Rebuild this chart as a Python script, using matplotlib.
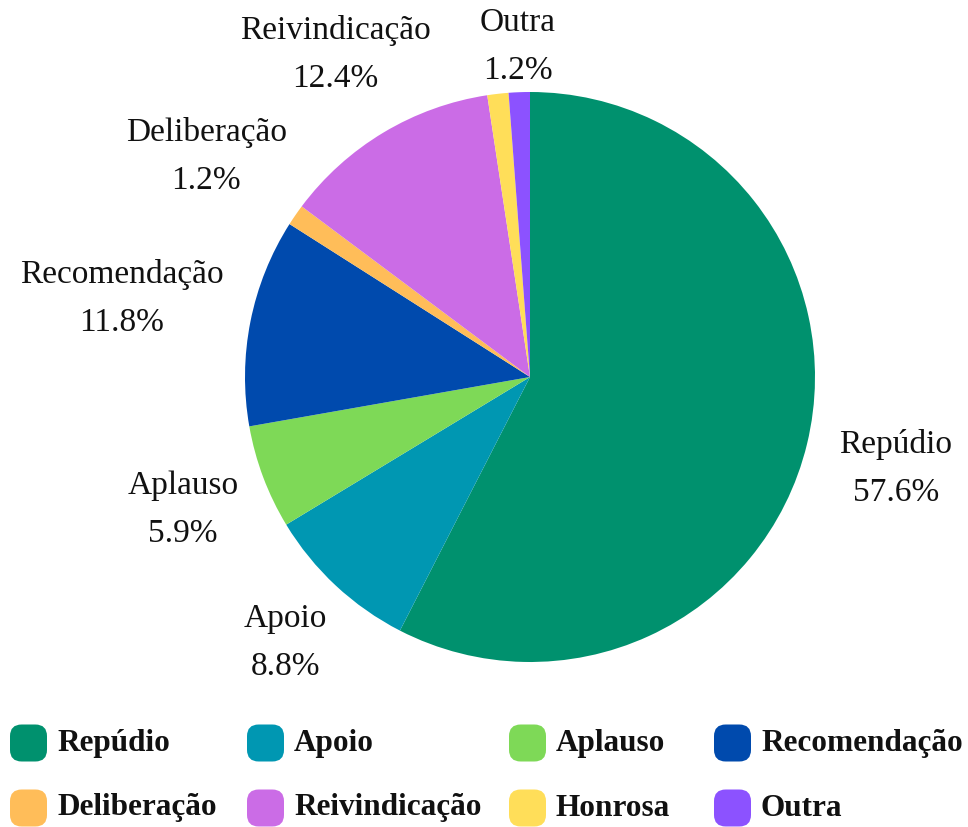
import numpy as np
import matplotlib.pyplot as plt
from matplotlib.patches import FancyBboxPatch

# --- data -----------------------------------------------------------------
categories = ["Repúdio", "Apoio", "Aplauso", "Recomendação",
              "Deliberação", "Reivindicação", "Honrosa", "Outra"]
shares = [57.6, 8.8, 5.9, 11.8, 1.2, 12.4, 1.2, 1.2]
show_label = [True, True, True, True, True, True, False, True]

# --- style ----------------------------------------------------------------
colors = ["#00916E", "#0097B2", "#7ED957", "#004AAD",
          "#FFBD59", "#CB6CE6", "#FFDE59", "#8C52FF"]
label_dist = [1.32, 1.26, 1.30, 1.46, 1.38, 1.33, 1.20, 1.17]
LABEL_DY = -0.01          # small downward nudge of all slice labels
FONT = "Liberation Serif"
W, H = 968, 827

fig = plt.figure(figsize=(W / 100, H / 100), dpi=100)
fig.patch.set_facecolor("white")

# pie axes: centre (530, 377) px, radius 285 px
cx, cy, r = 530, 377, 285
ax = fig.add_axes([(cx - r) / W, (H - cy - r) / H, 2 * r / W, 2 * r / H])

wedges, _ = ax.pie(shares, colors=colors, startangle=90, counterclock=False,
                   radius=1, wedgeprops=dict(linewidth=0))
ax.set_xlim(-1, 1)
ax.set_ylim(-1, 1)
ax.set_aspect("equal")
ax.axis("off")

for w, name, val, show, d in zip(wedges, categories, shares, show_label, label_dist):
    if not show:
        continue
    ang = np.deg2rad((w.theta1 + w.theta2) / 2)
    x, y = d * np.cos(ang), d * np.sin(ang) + LABEL_DY
    ax.text(x, y, f"{name}\n{val:.1f}%", ha="center", va="center",
            fontsize=24, family=FONT, color="#111111", linespacing=1.75,
            clip_on=False)

# --- legend (4 columns x 2 rows, rounded squares) -------------------------
col_x = [10, 247, 509, 714]
row_y = [743, 808]
sq = 37
for i, (name, c) in enumerate(zip(categories, colors)):
    col, row = i % 4, i // 4
    x0, yc = col_x[col], row_y[row]
    fig.add_artist(FancyBboxPatch(
        ((x0) / W, (H - yc - sq / 2) / H), sq / W, sq / H,
        boxstyle="round,pad=0,rounding_size=0.012",
        mutation_aspect=W / H, transform=fig.transFigure,
        facecolor=c, edgecolor="none"))
    fig.text((x0 + sq + 10) / W, (H - yc) / H, name, ha="left", va="center",
             fontsize=22.5, family=FONT, weight="bold", color="#111111")

fig.savefig("out.png", dpi=100, facecolor="white")
